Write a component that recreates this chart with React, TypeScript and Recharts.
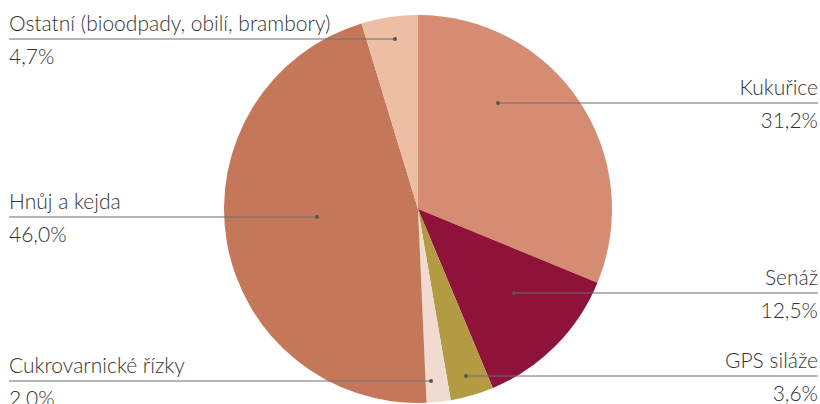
import React from 'react';
import { PieChart, Pie, Cell } from 'recharts';

const categories = [
  'Kukuřice',
  'Senáž',
  'GPS siláže',
  'Cukrovarnické řízky',
  'Hnůj a kejda',
  'Ostatní (bioodpady, obilí, brambory)',
];
const shares = [31.2, 12.5, 3.6, 2.0, 46.0, 4.7];
const shareLabels = ['31,2%', '12,5%', '3,6%', '2.0%', '46,0%', '4,7%'];
const colors = ['#d68b73', '#8f1339', '#b29b43', '#f0dbd0', '#c47859', '#ecbfa4'];

// where each callout sits, relative to the pie centre (dx,dy of the dot) and which side the text goes
const callouts = [
  { dx: 80, dy: -106, side: 'right' },
  { dx: 96, dy: 84, side: 'right' },
  { dx: 48, dy: 167, side: 'right' },
  { dx: 13, dy: 172, side: 'left' },
  { dx: -101, dy: 8, side: 'left' },
  { dx: -23, dy: -170, side: 'left' },
];

const W = 820;
const H = 404;

const data = categories.map((name, i) => ({ name, value: shares[i], pct: shareLabels[i] }));

const renderLabel = (props: any) => {
  const { cx, cy, index } = props;
  const c = callouts[index];
  const x = cx + c.dx;
  const y = cy + c.dy;
  const left = c.side === 'left';
  const x0 = left ? 9 : x;
  const x1 = left ? x : W - 2;
  const tx = left ? 9 : W - 2;
  const anchor = left ? 'start' : 'end';
  return (
    <g key={`lbl-${index}`}>
      <line x1={x0} y1={y} x2={x1} y2={y} stroke="#6e6e6e" strokeWidth={1.2} />
      <circle cx={x} cy={y} r={2} fill="#555" />
      <text x={tx} y={y - 8} textAnchor={anchor} fill="#333" fontSize={21} fontFamily="Lato" fontWeight={300}>
        {data[index].name}
      </text>
      <text x={tx} y={y + 25} textAnchor={anchor} fill="#333" fontSize={21} fontFamily="Lato" fontWeight={300}>
        {data[index].pct}
      </text>
    </g>
  );
};

export default function App() {
  return (
    <div style={{ width: W, height: H, background: '#fff' }}>
      <style>{`body{margin:0}`}</style>
      <PieChart width={W} height={H} margin={{ top: 0, right: 0, bottom: 0, left: 0 }}>
        <Pie
          data={data}
          dataKey="value"
          nameKey="name"
          cx={418}
          cy={209}
          outerRadius={194}
          startAngle={90}
          endAngle={-270}
          stroke="none"
          label={renderLabel}
          labelLine={false}
          isAnimationActive={false}
        >
          {data.map((d, i) => (
            <Cell key={d.name} fill={colors[i]} />
          ))}
        </Pie>
      </PieChart>
    </div>
  );
}
